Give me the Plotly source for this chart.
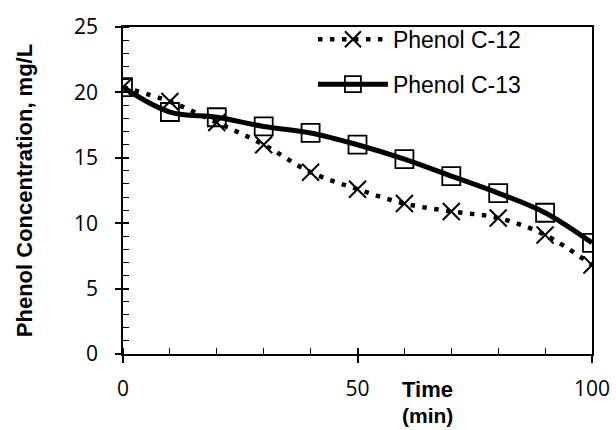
import plotly.graph_objects as go

time_min = [0, 10, 20, 30, 40, 50, 60, 70, 80, 90, 100]
phenol_c12 = [20.4, 19.3, 17.7, 16.0, 13.9, 12.6, 11.5, 10.9, 10.4, 9.1, 6.8]
phenol_c13 = [20.4, 18.5, 18.1, 17.4, 16.9, 16.0, 14.9, 13.6, 12.3, 10.8, 8.5]

fig = go.Figure()
fig.add_trace(go.Scatter(
    x=time_min, y=phenol_c12, name="Phenol C-12", mode="lines+markers",
    line=dict(color="black", width=4.5, dash="4.5px,7.5px", shape="spline", smoothing=1),
    marker=dict(symbol="x-thin-open", size=17, color="black", line=dict(color="black", width=2)),
    legendgroup="a",
))
fig.add_trace(go.Scatter(
    x=time_min, y=phenol_c13, name="Phenol C-13", mode="lines+markers",
    line=dict(color="black", width=5, shape="spline", smoothing=1),
    marker=dict(symbol="square-open", size=18, color="black", line=dict(color="black", width=1.8)),
    legendgroup="b",
))
# overlay axes for inward half of crossing major ticks
fig.add_trace(go.Scatter(x=[None], y=[None], xaxis="x2", yaxis="y2", showlegend=False))

tickfont = dict(family="Open Sans", size=21, color="black")
fig.update_layout(
    width=616, height=430,
    margin=dict(l=123, r=24, t=27, b=76, autoexpand=False),
    paper_bgcolor="white", plot_bgcolor="white",
    showlegend=True,
    legend=dict(x=0.405, y=1.028, xanchor="left", yanchor="top",
                font=dict(family="Liberation Sans", size=23, color="black"),
                itemwidth=70, tracegroupgap=12, traceorder="grouped",
                bgcolor="rgba(0,0,0,0)"),
    xaxis=dict(range=[0, 100], showgrid=False, zeroline=False,
               showline=True, linecolor="black", linewidth=1.5, mirror=True,
               tickvals=[0, 50, 100], ticks="outside", ticklen=7, tickwidth=1.5, tickcolor="black",
               tickfont=tickfont, ticklabelstandoff=8,
               minor=dict(dtick=10, tick0=0, ticks="inside", ticklen=6, tickwidth=1.2, tickcolor="black", showgrid=False)),
    yaxis=dict(range=[0, 25], showgrid=False, zeroline=False,
               showline=True, linecolor="black", linewidth=1.5, mirror=True,
               tickvals=[0, 5, 10, 15, 20, 25], ticks="outside", ticklen=6, tickwidth=1.5, tickcolor="black",
               tickfont=tickfont, ticklabelstandoff=13,
               title=dict(text="Phenol Concentration, mg/L",
                          font=dict(family="Liberation Sans", size=22, color="black", weight="bold"),
                          standoff=35),
               minor=dict(dtick=1, tick0=0, ticks="inside", ticklen=6, tickwidth=1.2, tickcolor="black", showgrid=False)),
    xaxis2=dict(range=[0, 100], overlaying="x", showgrid=False, zeroline=False, showline=False,
                tickvals=[0, 50, 100], ticks="inside", ticklen=6, tickwidth=1.5, tickcolor="black",
                showticklabels=False),
    yaxis2=dict(range=[0, 25], overlaying="y", showgrid=False, zeroline=False, showline=False,
                tickvals=[0, 5, 10, 15, 20, 25], ticks="inside", ticklen=6, tickwidth=1.5, tickcolor="black",
                showticklabels=False),
)
fig.add_annotation(text="<b>Time</b>", x=0.65, y=-0.11, xref="paper", yref="paper",
                   xanchor="center", yanchor="middle", showarrow=False,
                   font=dict(family="Liberation Sans", size=22, color="black"))
fig.add_annotation(text="<b>(min)</b>", x=0.65, y=-0.188, xref="paper", yref="paper",
                   xanchor="center", yanchor="middle", showarrow=False,
                   font=dict(family="Liberation Sans", size=21, color="black"))

fig.write_html("out.html", config={"displayModeBar": False},
               post_script="document.body.style.margin='0';document.body.style.overflow='hidden';")
